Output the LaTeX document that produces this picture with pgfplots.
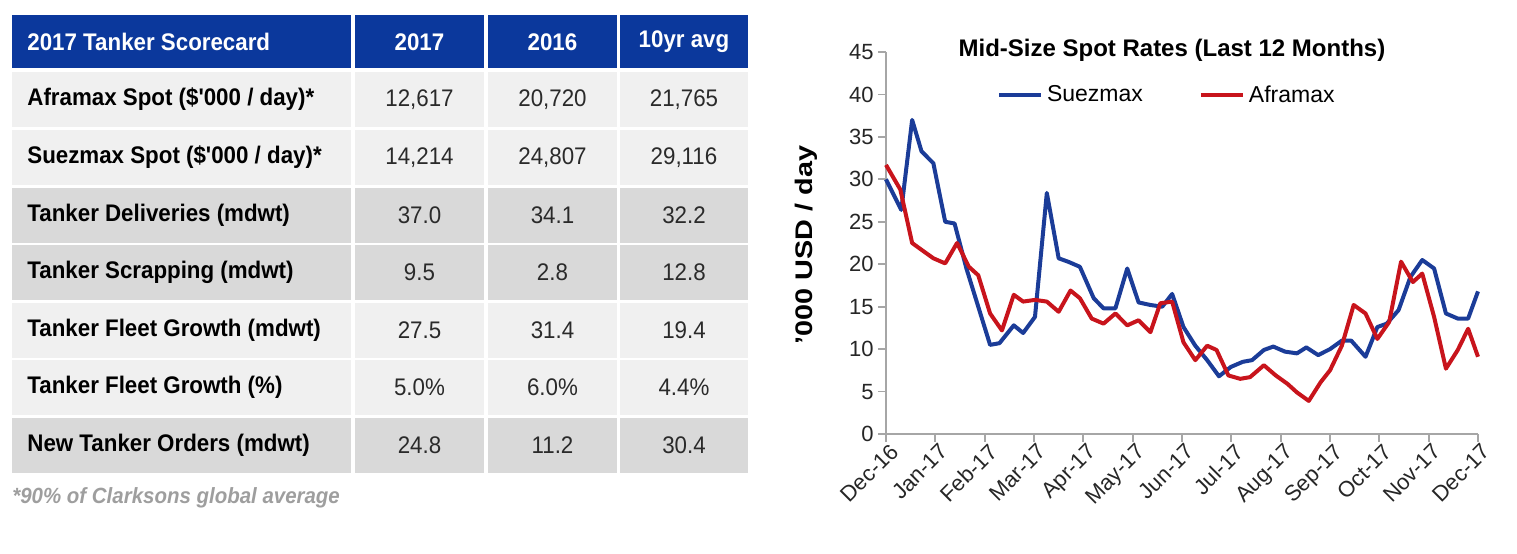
\documentclass[border=0pt]{standalone}
\usepackage{graphicx}
\usepackage{pgfplots}
\pgfplotsset{compat=1.18}
\usepackage{fontspec}
\setmainfont{Liberation Sans}
\newfontfamily\tbl[FakeStretch=0.93]{Liberation Sans}
\definecolor{hdr}{HTML}{0B389C}
\definecolor{rowL}{HTML}{F0F0F0}
\definecolor{rowD}{HTML}{D9D9D9}
\definecolor{sz}{HTML}{1B3C98}
\definecolor{af}{HTML}{C8141C}
\definecolor{valc}{HTML}{2A2A2A}

\pgfplotstableread{
x y
0 30
0.31 26.4
0.53 37.0
0.72 33.3
0.96 31.9
1.20 25.0
1.39 24.8
1.63 19.5
1.87 15
2.11 10.5
2.30 10.7
2.59 12.8
2.78 11.9
3.02 13.8
3.26 28.4
3.50 20.7
3.69 20.3
3.93 19.7
4.21 16
4.41 14.8
4.65 14.8
4.89 19.5
5.12 15.5
5.36 15.2
5.60 15.0
5.80 16.5
6.03 12.6
6.27 10.4
6.51 8.7
6.75 6.8
6.99 7.9
7.23 8.5
7.42 8.7
7.66 9.9
7.85 10.3
8.09 9.7
8.33 9.5
8.52 10.2
8.76 9.3
9.00 10.0
9.24 11.0
9.43 11.0
9.72 9.1
9.96 12.6
10.15 13.0
10.39 14.6
10.63 18.5
10.87 20.5
11.11 19.5
11.35 14.2
11.59 13.6
11.80 13.6
12.00 16.8
}\suez

\pgfplotstableread{
x y
0 31.7
0.29 28.8
0.53 22.5
0.72 21.7
0.96 20.7
1.20 20.1
1.44 22.5
1.68 19.7
1.87 18.7
2.11 14.2
2.35 12.2
2.59 16.4
2.78 15.6
3.02 15.8
3.26 15.6
3.50 14.4
3.74 16.9
3.93 16.0
4.17 13.6
4.41 13.0
4.65 14.2
4.89 12.8
5.12 13.4
5.36 12.0
5.56 15.4
5.80 15.6
6.03 10.8
6.27 8.7
6.51 10.4
6.70 9.9
6.94 6.9
7.18 6.5
7.38 6.7
7.66 8.1
7.90 6.9
8.14 5.9
8.33 4.9
8.57 3.9
8.81 6.1
9.00 7.5
9.24 10.4
9.48 15.2
9.72 14.2
9.96 11.2
10.20 13.2
10.44 20.3
10.68 17.9
10.87 18.9
11.11 13.8
11.35 7.7
11.59 9.9
11.80 12.4
12.00 9.1
}\afra

\begin{document}
\begin{tikzpicture}
\useasboundingbox (0,0) rectangle (758.5pt,-276.5pt);
\begin{scope}[x=0.5pt,y=-0.5pt]
  % header
  \fill[hdr] (12,15) rectangle (351,68);
  \fill[hdr] (355,15) rectangle (484,68);
  \fill[hdr] (488,15) rectangle (617,68);
  \fill[hdr] (620,15) rectangle (748,68);
  % rows
  \foreach \ya/\yb/\c in {72/127/rowL,130/185/rowL,188/243/rowD,245/300/rowD,303/358/rowL,360/415/rowL,418/473/rowD}{
    \fill[\c] (12,\ya) rectangle (351,\yb);
    \fill[\c] (355,\ya) rectangle (484,\yb);
    \fill[\c] (488,\ya) rectangle (617,\yb);
    \fill[\c] (620,\ya) rectangle (748,\yb);
  }
  \begin{scope}[every node/.style={font=\tbl\fontsize{12}{14}\selectfont, inner sep=0pt}]
  \node[anchor=west, text=white, font=\tbl\bfseries\fontsize{12}{14}\selectfont] at (27,42) {2017 Tanker Scorecard};
  \node[text=white, font=\tbl\bfseries\fontsize{12}{14}\selectfont] at (419.5,42) {2017};
  \node[text=white, font=\tbl\bfseries\fontsize{12}{14}\selectfont] at (552.5,42) {2016};
  \node[text=white, font=\tbl\bfseries\fontsize{12}{14}\selectfont] at (684,42) {10yr avg};
  \foreach \y/\lab/\a/\b/\cc in {
     99.5/{Aframax Spot (\$'000 / day)*}/{12,617}/{20,720}/{21,765},
     157.5/{Suezmax Spot (\$'000 / day)*}/{14,214}/{24,807}/{29,116},
     215.5/{Tanker Deliveries (mdwt)}/37.0/34.1/32.2,
     272.5/{Tanker Scrapping (mdwt)}/9.5/2.8/12.8,
     330.5/{Tanker Fleet Growth (mdwt)}/27.5/31.4/19.4,
     387.5/{Tanker Fleet Growth (\%)}/5.0\%/6.0\%/4.4\%,
     445.5/{New Tanker Orders (mdwt)}/24.8/11.2/30.4}{
    \node[anchor=west, text=black, font=\tbl\bfseries\fontsize{12}{14}\selectfont] at (27,\y) {\lab};
    \node[text=valc] at (419.5,\y) {\a};
    \node[text=valc] at (552.5,\y) {\b};
    \node[text=valc] at (684,\y) {\cc};
  }
  \node[anchor=west, text=black!38, font=\tbl\bfseries\itshape\fontsize{11}{13}\selectfont] at (12,498) {*90\% of Clarksons global average};
  \end{scope}
\end{scope}

\begin{axis}[
  at={(443pt,-217pt)}, anchor=south west,
  scale only axis, width=296pt, height=191pt,
  xmin=0, xmax=12, ymin=0, ymax=45,
  axis x line=bottom, axis y line=left,
  axis line style={-, draw=gray!70, line width=0.9pt},
  xtick={0,1,2,3,4,5,6,7,8,9,10,11,12},
  xticklabels={Dec-16,Jan-17,Feb-17,Mar-17,Apr-17,May-17,Jun-17,Jul-17,Aug-17,Sep-17,Oct-17,Nov-17,Dec-17},
  ytick={0,5,10,15,20,25,30,35,40,45},
  tick align=outside,
  major tick length=4pt,
  tick style={gray!70, line width=0.9pt},
  /pgf/number format/assume math mode=true,
  ticklabel style={font=\fontsize{11}{13}\selectfont, text=black!85},
  xticklabel style={rotate=45, anchor=north east, inner sep=1pt, xshift=2pt},
  yticklabel style={inner sep=2pt},
  title={Mid-Size Spot Rates (Last 12 Months)},
  title style={font=\bfseries\fontsize{12}{14}\selectfont, at={(axis description cs:0.483,0.974)}, anchor=center},
  ylabel={\scalebox{1.2}[1]{'000 USD / day}},
  ylabel style={font=\bfseries\fontsize{12}{14}\selectfont, at={(axis description cs:-0.135,0.495)}, anchor=center, rotate=0},
  legend style={at={(0.476,0.887)}, anchor=center, draw=none, fill=none,
    font=\fontsize{11.5}{13}\selectfont, legend columns=2,
    /tikz/every even column/.append style={column sep=26pt}},
  legend image code/.code={\draw[#1] (0pt,0pt) -- (21pt,0pt);},
  clip=false,
]
\addplot[sz, line width=2pt, line join=round] table[x=x,y=y] {\suez};
\addlegendentry{Suezmax}
\addplot[af, line width=2pt, line join=round] table[x=x,y=y] {\afra};
\addlegendentry{Aframax}
\end{axis}
\end{tikzpicture}
\end{document}
